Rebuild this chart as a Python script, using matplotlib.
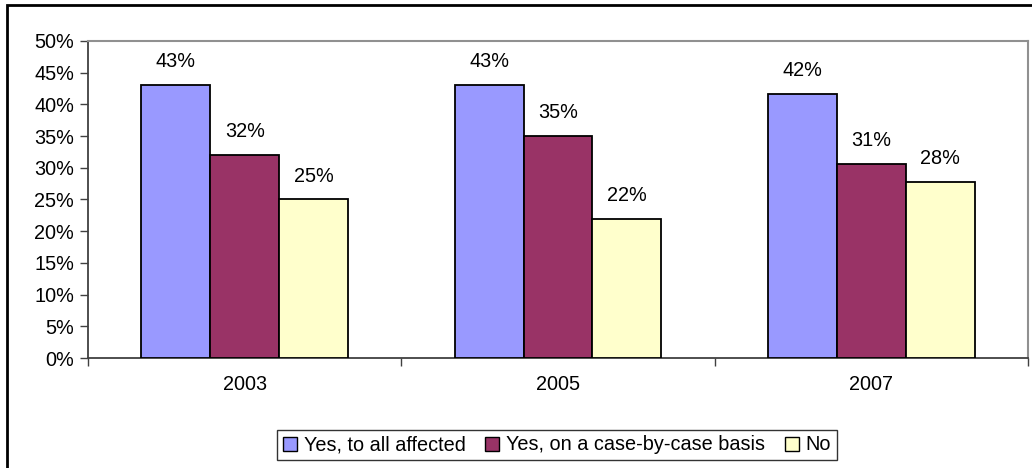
import matplotlib.pyplot as plt
from matplotlib.patches import Patch, Rectangle
import numpy as np

plt.rcParams['font.family'] = ['Liberation Sans', 'DejaVu Sans']

# data
years = ["2003", "2005", "2007"]
series = ["Yes, to all affected", "Yes, on a case-by-case basis", "No"]
yes_all = [43.0, 43.0, 41.6]
yes_case = [32.0, 35.0, 30.6]
no = [25.0, 22.0, 27.8]
colors = ["#9999FF", "#993366", "#FFFFCC"]

W, H = 1032, 468
FS = 14.3
fig = plt.figure(figsize=(W / 100, H / 100), dpi=100)
ax = fig.add_axes([88 / W, (H - 358) / H, (1028 - 88) / W, (358 - 41) / H])

x = np.arange(len(years))
bw = 0.22
for i, (vals, c) in enumerate(zip([yes_all, yes_case, no], colors)):
    bars = ax.bar(x + (i - 1) * bw, vals, bw, color=c, edgecolor="black", linewidth=1.3, zorder=3)
    for b, v in zip(bars, vals):
        ax.annotate(f"{v:.0f}%", (b.get_x() + b.get_width() / 2, v), xytext=(0, 10),
                    textcoords="offset points", ha="center", va="bottom", fontsize=FS)

ax.set_xlim(-0.5, 2.5)
ax.set_ylim(0, 50)
ax.set_yticks(np.arange(0, 51, 5))
ax.set_yticklabels([f"{t}%" for t in range(0, 51, 5)], fontsize=FS)
ax.tick_params(axis="y", length=6, width=1, color="#404040", pad=4)

ax.set_xticks([-0.5, 0.5, 1.5, 2.5])
ax.set_xticklabels([])
ax.tick_params(axis="x", which="major", length=6, width=1, color="#404040")
ax.set_xticks(x, minor=True)
ax.set_xticklabels(years, minor=True, fontsize=FS)
ax.tick_params(axis="x", which="minor", length=0, pad=12)

for s in ["top", "right"]:
    ax.spines[s].set_color("#909090")
    ax.spines[s].set_linewidth(1.5)
for s in ["left", "bottom"]:
    ax.spines[s].set_color("#404040")
    ax.spines[s].set_linewidth(1.3)

handles = [Patch(facecolor=c, edgecolor="black", linewidth=1) for c in colors]
leg = fig.legend(handles, series, loc="center", bbox_to_anchor=(557 / W, (H - 445) / H),
                 ncol=3, fontsize=FS, frameon=True, fancybox=False, handlelength=0.7,
                 handleheight=0.7, handletextpad=0.35, columnspacing=1.0, borderpad=0.3)
leg.get_frame().set_edgecolor("black")
leg.get_frame().set_linewidth(1)

# outer chart border (cropped at right and bottom)
fig.patches.append(Rectangle((7 / W, -0.1), 1.2, (H - 5) / H + 0.1, transform=fig.transFigure,
                             fill=False, edgecolor="black", linewidth=2))

fig.savefig("out.png", dpi=100)
